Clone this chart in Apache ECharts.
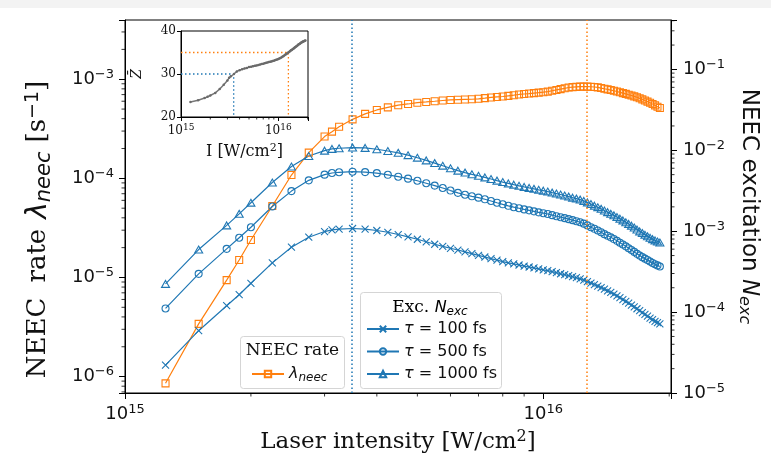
<!DOCTYPE html>
<html>
<head>
<meta charset="utf-8">
<title>NEEC rate and excitation</title>
<script src="https://cdn.jsdelivr.net/npm/echarts@6/dist/echarts.min.js"></script>
<style>
html,body{margin:0;padding:0;background:#fff;}
#mainChart{width:771px;height:474px;}
</style>
</head>
<body>
<div id="mainChart"></div>
<script>
// laser intensity, in units of 1e15 W/cm^2
var intensity = [1.25,1.5,1.75,1.875,2.0,2.25,2.5,2.75,3.0,3.125,3.25,3.5,
    3.75,4.0,4.25,4.5,4.75,5.0,5.25,5.5,5.75,6.0,
    6.25,6.5,6.75,7.0,7.25,7.5,7.75,8.0,8.25,8.5,
    8.75,9.0,9.25,9.5,9.75,10.0,10.25,10.5,10.75,11.0,
    11.25,11.5,11.75,12.0,12.25,12.5,12.75,13.0,13.25,13.5,
    13.75,14.0,14.25,14.5,14.75,15.0,15.25,15.5,15.75,16.0,
    16.25,16.5,16.75,17.0,17.25,17.5,17.75,18.0,18.25,18.5,
    18.75,19.0];
// NEEC rate lambda_neec [1/s] (left axis)
var neecRate = [8.55e-7,3.4e-6,9.4e-6,1.5e-5,2.39e-5,5.26e-5,1.08e-4,1.82e-4,2.64e-4,2.96e-4,3.32e-4,3.94e-4,
    4.47e-4,4.9e-4,5.2e-4,5.47e-4,5.63e-4,5.8e-4,5.9e-4,6.0e-4,6.1e-4,6.18e-4,
    6.22e-4,6.25e-4,6.28e-4,6.35e-4,6.45e-4,6.55e-4,6.63e-4,6.7e-4,6.8e-4,6.9e-4,
    7.02e-4,7.1e-4,7.17e-4,7.25e-4,7.32e-4,7.4e-4,7.5e-4,7.65e-4,7.8e-4,7.95e-4,
    8.1e-4,8.25e-4,8.33e-4,8.38e-4,8.42e-4,8.43e-4,8.43e-4,8.4e-4,8.35e-4,8.27e-4,
    8.15e-4,8.02e-4,7.9e-4,7.78e-4,7.65e-4,7.52e-4,7.38e-4,7.25e-4,7.12e-4,6.98e-4,
    6.85e-4,6.72e-4,6.58e-4,6.42e-4,6.26e-4,6.1e-4,5.95e-4,5.8e-4,5.62e-4,5.45e-4,
    5.28e-4,5.12e-4];
// NEEC excitation N_exc (right axis), tau = 100 / 500 / 1000 fs
var exc100 = [2.21e-5,5.89e-5,1.2e-4,1.64e-4,2.27e-4,4.06e-4,6.34e-4,8.43e-4,9.9e-4,1.04e-3,1.06e-3,1.08e-3,
    1.06e-3,1.02e-3,9.7e-4,9.1e-4,8.5e-4,7.95e-4,7.4e-4,6.9e-4,6.5e-4,6.15e-4,
    5.85e-4,5.55e-4,5.28e-4,5.02e-4,4.8e-4,4.58e-4,4.38e-4,4.2e-4,4.06e-4,3.94e-4,
    3.82e-4,3.71e-4,3.61e-4,3.52e-4,3.42e-4,3.33e-4,3.25e-4,3.16e-4,3.07e-4,2.98e-4,
    2.9e-4,2.82e-4,2.74e-4,2.66e-4,2.58e-4,2.48e-4,2.38e-4,2.28e-4,2.19e-4,2.1e-4,
    2.01e-4,1.92e-4,1.83e-4,1.75e-4,1.67e-4,1.59e-4,1.51e-4,1.43e-4,1.36e-4,1.29e-4,
    1.22e-4,1.16e-4,1.1e-4,1.04e-4,9.85e-5,9.35e-5,8.9e-5,8.45e-5,8.05e-5,7.7e-5,
    7.4e-5,7.15e-5];
var exc500 = [1.11e-4,2.97e-4,6.05e-4,8.3e-4,1.12e-3,2.02e-3,3.13e-3,4.25e-3,5.0e-3,5.24e-3,5.35e-3,5.44e-3,
    5.38e-3,5.22e-3,4.98e-3,4.72e-3,4.46e-3,4.2e-3,3.92e-3,3.66e-3,3.42e-3,3.18e-3,
    2.98e-3,2.82e-3,2.7e-3,2.6e-3,2.48e-3,2.36e-3,2.25e-3,2.15e-3,2.06e-3,1.98e-3,
    1.92e-3,1.86e-3,1.81e-3,1.76e-3,1.71e-3,1.67e-3,1.63e-3,1.58e-3,1.53e-3,1.49e-3,
    1.45e-3,1.41e-3,1.37e-3,1.33e-3,1.29e-3,1.24e-3,1.18e-3,1.12e-3,1.07e-3,1.02e-3,
    9.7e-4,9.2e-4,8.8e-4,8.4e-4,8.0e-4,7.6e-4,7.2e-4,6.85e-4,6.5e-4,6.15e-4,
    5.85e-4,5.55e-4,5.25e-4,5.0e-4,4.78e-4,4.58e-4,4.4e-4,4.22e-4,4.05e-4,3.9e-4,
    3.78e-4,3.66e-4];
var exc1000 = [2.23e-4,5.93e-4,1.18e-3,1.64e-3,2.25e-3,4.0e-3,6.3e-3,8.5e-3,9.9e-3,1.04e-2,1.06e-2,1.08e-2,
    1.07e-2,1.03e-2,9.8e-3,9.3e-3,8.7e-3,8.1e-3,7.5e-3,6.95e-3,6.45e-3,6.0e-3,
    5.6e-3,5.3e-3,5.05e-3,4.85e-3,4.62e-3,4.42e-3,4.22e-3,4.05e-3,3.9e-3,3.76e-3,
    3.64e-3,3.53e-3,3.43e-3,3.34e-3,3.25e-3,3.17e-3,3.09e-3,3.0e-3,2.92e-3,2.84e-3,
    2.76e-3,2.68e-3,2.6e-3,2.53e-3,2.46e-3,2.37e-3,2.27e-3,2.17e-3,2.07e-3,1.98e-3,
    1.89e-3,1.8e-3,1.72e-3,1.64e-3,1.57e-3,1.5e-3,1.43e-3,1.36e-3,1.29e-3,1.23e-3,
    1.17e-3,1.11e-3,1.05e-3,9.95e-4,9.5e-4,9.05e-4,8.65e-4,8.3e-4,7.98e-4,7.7e-4,
    7.45e-4,7.25e-4];
// inset: mean charge state Z-bar
var zBar = [23.5,23.9,24.4,24.7,25.0,25.6,26.5,27.5,28.5,29.1,29.5,30.0,
    30.6,30.9,31.1,31.3,31.4,31.6,31.7,31.8,31.9,32.0,
    32.1,32.2,32.3,32.4,32.5,32.6,32.7,32.8,32.85,32.9,
    33.0,33.1,33.2,33.3,33.4,33.5,33.6,33.7,33.85,34.0,
    34.15,34.3,34.45,34.6,34.75,34.9,35.05,35.2,35.35,35.5,
    35.6,35.75,35.9,36.0,36.15,36.3,36.4,36.5,36.65,36.8,
    36.9,37.0,37.1,37.2,37.3,37.4,37.5,37.55,37.6,37.7,
    37.75,37.8];
// dotted guide lines: intensity of the N_exc peak / lambda peak, and Z-bar there
var guideI = [3.48, 12.7];
var guideZ = [30, 35];
var seriesNames = ['λneec', 'τ = 100 fs', 'τ = 500 fs', 'τ = 1000 fs'];
// log minor tick mantissas (matplotlib style 2..9)
var minorMantissa = [2, 3, 4, 5, 6, 7, 8, 9];

var blue = '#1f77b4', orange = '#ff7f0e', ink = '#111';
var serif = 'DejaVu Serif', sans = 'DejaVu Sans';

var symRect = 'path://M0,0L10,0L10,10L0,10Z';
var symCircle = 'path://M10,5A5,5,0,1,1,0,5A5,5,0,1,1,10,5Z';
var symTri = 'path://M5,0L10,8.66L0,8.66Z';
var symCross = 'path://M0,0L10,10M10,0L0,10';

function pairs(ys){
    var out = [];
    for (var i = 0; i < intensity.length; i++) {
        out.push([intensity[i], ys[i]]);
    }
    return out;
}

// minor tick values between lo and hi (axis extent)
function minorValues(lo, hi){
    var out = [];
    for (var e = Math.floor(Math.log10(lo)); e <= Math.ceil(Math.log10(hi)); e++) {
        for (var k = 0; k < minorMantissa.length; k++) {
            var v = minorMantissa[k] * Math.pow(10, e);
            if (v > lo && v < hi) out.push(v);
        }
    }
    return out;
}

// 10^n label for decades only
function expLabel(v, shift){
    var e = Math.log10(v), r = Math.round(e);
    if (Math.abs(e - r) > 1e-6) return '';
    var n = r + shift;
    return '{b|10}{p|' + (n < 0 ? '\u2212' + (-n) : n) + '}';
}

var tickRich = {
    b: {fontFamily: sans, fontSize: 18, color: ink},
    p: {fontFamily: sans, fontSize: 13, color: ink, verticalAlign: 'bottom', padding: [0, 0, 9, 0]}
};
var insetTickRich = {
    b: {fontFamily: serif, fontSize: 12, color: ink},
    p: {fontFamily: serif, fontSize: 9, color: ink, verticalAlign: 'bottom', padding: [0, 0, 6, 0]}
};
var nameRich = {
    s: {fontFamily: serif, fontSize: 23, color: ink},
    t: {fontFamily: sans, fontSize: 23, color: ink},
    m: {fontFamily: sans, fontSize: 23, fontStyle: 'italic', color: ink},
    sb: {fontFamily: sans, fontSize: 16, fontStyle: 'italic', color: ink, verticalAlign: 'top', padding: [10, 0, 0, 0]},
    ssp: {fontFamily: serif, fontSize: 16, color: ink, verticalAlign: 'bottom', padding: [0, 0, 10, 0]}
};
var leftNameRich = {
    s: {fontFamily: serif, fontSize: 26, color: ink},
    w: {fontFamily: serif, fontSize: 26, color: ink, padding: [0, 0, 0, 15]},
    m: {fontFamily: sans, fontSize: 28, fontStyle: 'italic', color: ink, padding: [0, 0, 0, 10]},
    sb: {fontFamily: sans, fontSize: 21, fontStyle: 'italic', color: ink, verticalAlign: 'top', padding: [12, 0, 0, 0]},
    k: {fontFamily: serif, fontSize: 26, color: ink, padding: [0, 0, 0, 9]},
    sp: {fontFamily: sans, fontSize: 19, color: ink, verticalAlign: 'bottom', padding: [0, 0, 12, 0]}
};
var legendRich = {
    i: {fontFamily: sans, fontSize: 16, fontStyle: 'italic', color: ink},
    n: {fontFamily: sans, fontSize: 16, color: ink},
    sb: {fontFamily: sans, fontSize: 12, fontStyle: 'italic', color: ink, verticalAlign: 'top', padding: [7, 0, 0, 0]},
    s: {fontFamily: serif, fontSize: 17, color: ink}
};

function legendText(name){
    if (name === seriesNames[0]) return '{i|λ}{sb|neec}';
    return '{i|τ}{n|' + name.substring(1) + '}';
}

var mainTick = {length: 6, lineStyle: {color: '#000', width: 1}};
var axisLine = {show: true, lineStyle: {color: '#000', width: 1}};

function markerSeries(name, ys, yIdx, color, sym, size){
    return {
        name: name, type: 'line', xAxisIndex: 0, yAxisIndex: yIdx,
        data: pairs(ys), symbol: sym, symbolSize: size, symbolKeepAspect: true,
        showAllSymbol: true,
        lineStyle: {color: color, width: 1.2},
        itemStyle: {color: 'rgba(0,0,0,0)', borderColor: color, borderWidth: 1.1},
        emphasis: {disabled: true}
    };
}

function guideMark(color, x){
    return {
        silent: true, symbol: ['none', 'none'], label: {show: false},
        lineStyle: {color: color, type: [1.5, 2.5], width: 1.5},
        emphasis: {disabled: true},
        data: [{xAxis: x}]
    };
}

// short outward tick marks at minor values, placed through the axis scale
// side: 'bottom' | 'left' | 'right'; other = any valid value on the other axis
function minorTickSeries(xIdx, yIdx, values, side, other, len){
    var data = [];
    for (var i = 0; i < values.length; i++) {
        data.push(side === 'bottom' ? [values[i], other] : [other, values[i]]);
    }
    return {
        type: 'custom', xAxisIndex: xIdx, yAxisIndex: yIdx, silent: true, clip: false, z: 4,
        data: data,
        renderItem: function(params, api){
            var cs = params.coordSys;
            var p = api.coord([api.value(0), api.value(1)]);
            var shape;
            if (side === 'bottom') {
                var b = cs.y + cs.height;
                shape = {x1: p[0], y1: b, x2: p[0], y2: b + len};
            } else if (side === 'left') {
                shape = {x1: cs.x, y1: p[1], x2: cs.x - len, y2: p[1]};
            } else {
                var r = cs.x + cs.width;
                shape = {x1: r, y1: p[1], x2: r + len, y2: p[1]};
            }
            return {type: 'line', shape: shape, style: {stroke: '#000', lineWidth: 0.8}};
        }
    };
}

var xMin = 1, xMax = 20.2;
var leftMin = 6.83e-7, leftMax = 3.96e-3;
var rightMin = 1e-5, rightMax = 0.408;

var s0 = markerSeries(seriesNames[0], neecRate, 0, orange, symRect, 7);
s0.markLine = guideMark(orange, guideI[1]);
var s1 = markerSeries(seriesNames[1], exc100, 1, blue, symCross, 7);
s1.markLine = guideMark(blue, guideI[0]);
var s2 = markerSeries(seriesNames[2], exc500, 1, blue, symCircle, 7);
var s3 = markerSeries(seriesNames[3], exc1000, 1, blue, symTri, 8);

var option = {
    animation: false,
    backgroundColor: '#fff',
    grid: [
        {left: 125, right: 100, top: 20, bottom: 81, show: true, borderColor: '#000', borderWidth: 1, backgroundColor: 'rgba(0,0,0,0)'},
        {left: 181, top: 31, width: 127, height: 86, show: true, borderColor: '#000', borderWidth: 1, backgroundColor: '#fff'}
    ],
    xAxis: [
        {
            gridIndex: 0, type: 'log', logBase: 10, min: xMin, max: xMax,
            axisLine: axisLine, axisTick: mainTick, minorTick: {show: false}, splitLine: {show: false},
            axisLabel: {margin: 10, formatter: function(v){ return expLabel(v, 15); }, rich: tickRich},
            name: '{s|Laser intensity [W/cm}{ssp|2}{s|]}', nameLocation: 'middle', nameGap: 36,
            nameTextStyle: {rich: nameRich}
        },
        {
            gridIndex: 1, type: 'log', logBase: 10, min: xMin, max: xMax,
            axisLine: axisLine, axisTick: {length: 4, lineStyle: {color: '#000'}},
            minorTick: {show: false}, splitLine: {show: false},
            axisLabel: {margin: 6, formatter: function(v){ return expLabel(v, 15); }, rich: insetTickRich},
            name: '{s|I [W/cm}{p|2}{s|]}', nameLocation: 'middle', nameGap: 26,
            nameTextStyle: {rich: {
                s: {fontFamily: serif, fontSize: 16, color: ink},
                p: {fontFamily: serif, fontSize: 11, color: ink, verticalAlign: 'bottom', padding: [0, 0, 7, 0]}
            }}
        }
    ],
    yAxis: [
        {
            gridIndex: 0, type: 'log', logBase: 10, position: 'left', min: leftMin, max: leftMax,
            axisLine: axisLine, axisTick: mainTick, minorTick: {show: false}, splitLine: {show: false},
            axisLabel: {margin: 11, formatter: function(v){ return expLabel(v, 0); }, rich: tickRich},
            name: '{s|NEEC}{w|rate}{m|λ}{sb|neec}{k|[s}{sp|\u22121}{s|]}', nameLocation: 'middle',
            nameRotate: 90, nameGap: 70, nameTextStyle: {rich: leftNameRich, padding: [0, 46, 0, 0]}
        },
        {
            gridIndex: 0, type: 'log', logBase: 10, position: 'right', min: rightMin, max: rightMax,
            axisLine: axisLine, axisTick: mainTick, minorTick: {show: false}, splitLine: {show: false},
            axisLabel: {margin: 12, formatter: function(v){ return expLabel(v, 0); }, rich: tickRich},
            name: '{t|NEEC excitation }{m|N}{sb|exc}', nameLocation: 'middle',
            nameRotate: -90, nameGap: 64, nameTextStyle: {rich: nameRich}
        },
        {
            gridIndex: 1, type: 'value', min: 20, max: 40, interval: 10,
            axisLine: axisLine, axisTick: {length: 4, lineStyle: {color: '#000'}}, splitLine: {show: false},
            axisLabel: {margin: 5, fontFamily: serif, fontSize: 12, color: ink},
            name: 'Z\u0304', nameLocation: 'middle', nameRotate: 90, nameGap: 37,
            nameTextStyle: {fontFamily: serif, fontSize: 14, fontStyle: 'italic', color: ink}
        }
    ],
    legend: [
        {
            data: [seriesNames[0]], left: 251, top: 366, orient: 'vertical', padding: 0,
            itemWidth: 32, itemHeight: 8, itemGap: 2, selectedMode: false, z: 10,
            formatter: legendText, textStyle: {rich: legendRich}
        },
        {
            data: seriesNames.slice(1), left: 366, top: 321, orient: 'vertical', padding: 0,
            itemWidth: 32, itemHeight: 8, itemGap: 6.5, selectedMode: false, z: 10,
            formatter: legendText, textStyle: {rich: legendRich}
        }
    ],
    graphic: [
        {type: 'rect', z: 0, shape: {x: 0, y: 0, width: 771, height: 8}, style: {fill: '#f3f3f3'}},
        {type: 'rect', z: 5, shape: {x: 240.5, y: 336.5, width: 104, height: 52, r: 3},
            style: {fill: 'rgba(255,255,255,0.85)', stroke: '#d5d5d5', lineWidth: 1}},
        {type: 'text', z: 6, x: 292.5, y: 351,
            style: {text: 'NEEC rate', font: '17px "DejaVu Serif"', fill: ink, align: 'center', verticalAlign: 'middle'}},
        {type: 'rect', z: 5, shape: {x: 360.5, y: 292.5, width: 141, height: 96, r: 3},
            style: {fill: 'rgba(255,255,255,0.85)', stroke: '#d5d5d5', lineWidth: 1}},
        {type: 'text', z: 6, x: 430, y: 308,
            style: {text: '{s|Exc. }{i|N}{sb|exc}', rich: legendRich, align: 'center', verticalAlign: 'middle'}}
    ],
    series: [
        s0, s1, s2, s3,
        {
            name: 'zbar', type: 'line', xAxisIndex: 1, yAxisIndex: 2, data: pairs(zBar),
            symbol: 'circle', symbolSize: 2.5, showAllSymbol: true,
            itemStyle: {color: '#6a6a6a'}, lineStyle: {color: '#777', width: 1.5},
            emphasis: {disabled: true}
        },
        {
            name: 'guideBlue', type: 'line', xAxisIndex: 1, yAxisIndex: 2, symbol: 'none',
            data: [[xMin, guideZ[0]], [guideI[0], guideZ[0]], [guideI[0], 20]],
            lineStyle: {color: blue, type: [1.5, 2.5], width: 1.3}, emphasis: {disabled: true}
        },
        {
            name: 'guideOrange', type: 'line', xAxisIndex: 1, yAxisIndex: 2, symbol: 'none',
            data: [[xMin, guideZ[1]], [guideI[1], guideZ[1]], [guideI[1], 20]],
            lineStyle: {color: orange, type: [1.5, 2.5], width: 1.3}, emphasis: {disabled: true}
        },
        minorTickSeries(0, 0, minorValues(xMin, xMax), 'bottom', 1e-4, 3.5),
        minorTickSeries(0, 0, minorValues(leftMin, leftMax), 'left', 2, 3.5),
        minorTickSeries(0, 1, minorValues(rightMin, rightMax), 'right', 2, 3.5),
        minorTickSeries(1, 2, minorValues(xMin, xMax), 'bottom', 30, 2.5)
    ]
};

var myChart = echarts.init(document.getElementById('mainChart'));
myChart.setOption(option);
</script>
</body>
</html>
